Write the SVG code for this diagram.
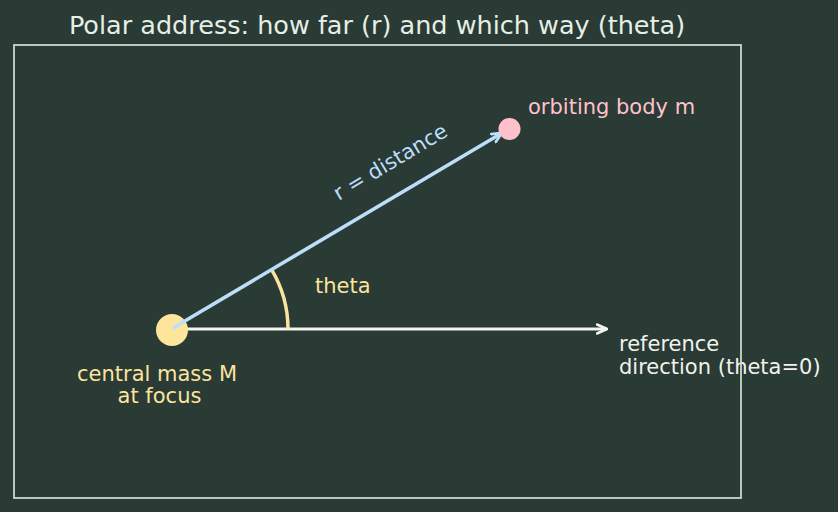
<svg xmlns="http://www.w3.org/2000/svg" width="838" height="512" viewBox="0 0 838 512">
  <defs>
    <marker id="arrW" viewBox="0 0 12 12" refX="11" refY="6" markerWidth="12" markerHeight="12" markerUnits="userSpaceOnUse" orient="auto">
      <path d="M1,1.5 L11,6 L1,10.5" fill="none" stroke="#f2f4ee" stroke-width="2.6" stroke-linecap="round" stroke-linejoin="round"/>
    </marker>
    <marker id="arrB" viewBox="0 0 12 12" refX="11" refY="6" markerWidth="12" markerHeight="12" markerUnits="userSpaceOnUse" orient="auto">
      <path d="M1,1.5 L11,6 L1,10.5" fill="none" stroke="#bbdefb" stroke-width="2.8" stroke-linecap="round" stroke-linejoin="round"/>
    </marker>
  </defs>
  <style>
    text { font-family: "DejaVu Sans", "Liberation Sans", sans-serif; font-size: 21px; }
    .title { font-size: 25.5px; fill: #e6efe6; }
    .yel { fill: #fbe49e; }
    .pink { fill: #ffc2cd; }
    .blue { fill: #bbdefb; }
    .wht { fill: #f0f2ec; }
  </style>
  <rect x="0" y="0" width="838" height="512" fill="#2a3a34"/>
  <text class="title" x="377" y="34" text-anchor="middle">Polar address: how far (r) and which way (theta)</text>

  <g id="connectors">
    <line id="reference-axis" x1="172" y1="329" x2="607" y2="329" stroke="#f2f4ee" stroke-width="3" marker-end="url(#arrW)"/>
    <path id="theta-arc" d="M288,329 A116,116 0 0 0 271.6,269.6" fill="none" stroke="#fbe49e" stroke-width="3.5"/>
  </g>

  <g id="central-mass">
    <circle cx="172" cy="330" r="16" fill="#fde59c"/>
    <text class="yel" x="157" y="381" text-anchor="middle">central mass M</text>
    <text class="yel" x="159.5" y="403" text-anchor="middle">at focus</text>
  </g>

  <g id="radius-connector">
    <line x1="173" y1="328" x2="502" y2="133" stroke="#bbdefb" stroke-width="3.6" marker-end="url(#arrB)"/>
    <text class="blue" x="394" y="168" text-anchor="middle" transform="rotate(-30.8 394 168)">r = distance</text>
  </g>

  <g id="orbiting-body">
    <circle cx="509.5" cy="129" r="11" fill="#ffc0cb"/>
    <text class="pink" x="528" y="114">orbiting body m</text>
  </g>

  <g id="theta-label">
    <text class="yel" x="315" y="293">theta</text>
  </g>

  <g id="reference-label">
    <text class="wht" x="619" y="351">reference</text>
    <text class="wht" x="619" y="374">direction (theta=0)</text>
  </g>

  <rect id="frame" x="14" y="45" width="727" height="453" fill="none" stroke="#c9d7cd" stroke-width="1.8"/>
</svg>
